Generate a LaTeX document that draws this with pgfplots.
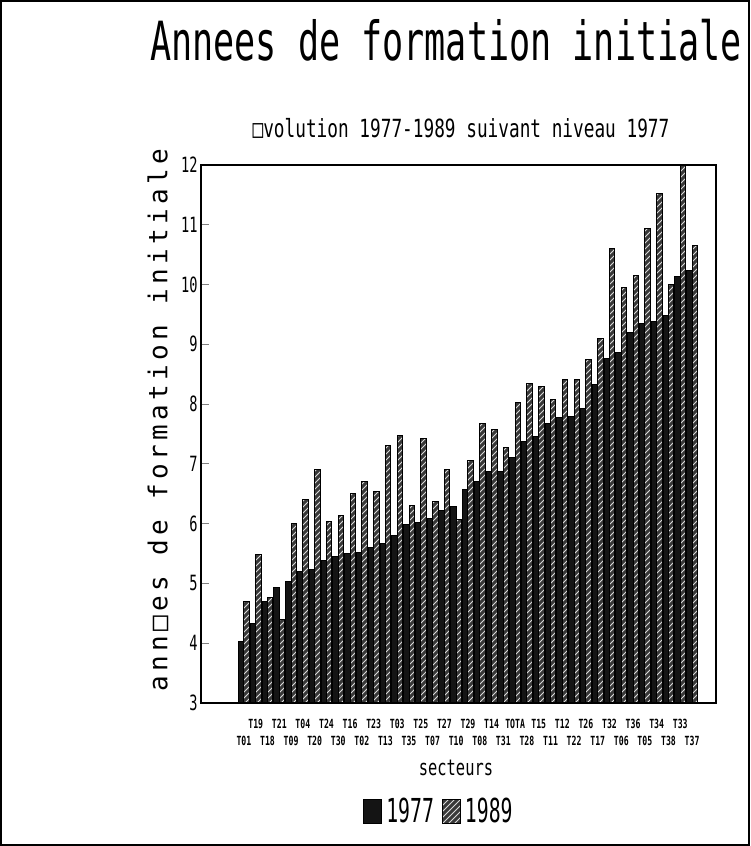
\documentclass[border=0pt]{standalone}
\usepackage{fontspec}
\usepackage{graphicx}
\usepackage{pgfplots}
\usepackage{pgfplotstable}
\pgfplotsset{compat=1.18}
\usetikzlibrary{patterns}
\setmainfont{DejaVu Sans Mono}

% narrow the plotter-like lettering
\newcommand\nar[2][0.65]{\scalebox{#1}[1]{#2}}
\newcommand\hi[1]{\nar{#1}\\\strut}
\newcommand\lo[1]{\strut\\\nar{#1}}

% x = sector index, a = 1977, b = 1989
\pgfplotstableread{
x  a     b
0  4.03  4.70
1  4.33  5.48
2  4.70  4.76
3  4.93  4.39
4  5.04  6.01
5  5.20  6.40
6  5.24  6.90
7  5.38  6.04
8  5.45  6.14
9  5.50  6.50
10 5.51  6.70
11 5.60  6.54
12 5.67  7.30
13 5.80  7.48
14 5.99  6.31
15 6.02  7.42
16 6.09  6.37
17 6.22  6.90
18 6.29  6.07
19 6.58  7.06
20 6.70  7.68
21 6.88  7.58
22 6.88  7.27
23 7.10  8.02
24 7.38  8.35
25 7.45  8.30
26 7.68  8.07
27 7.77  8.41
28 7.79  8.41
29 7.92  8.75
30 8.32  9.10
31 8.76  10.61
32 8.86  9.95
33 9.20  10.15
34 9.35  10.93
35 9.39  11.53
36 9.49  10.00
37 10.13 12.00
38 10.23 10.66
}\data

\begin{document}
\begin{tikzpicture}
\draw[line width=0.8pt] (-100.1pt,-71.1pt) rectangle (274.1pt,351.1pt);

\begin{axis}[
    at={(0pt,0pt)}, anchor=south west,
    scale only axis, width=257.5pt, height=269pt,
    xmin=-3.64, xmax=40.03, ymin=3, ymax=12,
    ybar=0pt, bar width=0.46,
    axis line style={line width=0.8pt},
    xtick=data,
    xticklabels={\lo{T01},\hi{T19},\lo{T18},\hi{T21},\lo{T09},\hi{T04},\lo{T20},\hi{T24},
        \lo{T30},\hi{T16},\lo{T02},\hi{T23},\lo{T13},\hi{T03},\lo{T35},\hi{T25},
        \lo{T07},\hi{T27},\lo{T10},\hi{T29},\lo{T08},\hi{T14},\lo{T31},\hi{TOTA},
        \lo{T28},\hi{T15},\lo{T11},\hi{T12},\lo{T22},\hi{T26},\lo{T17},\hi{T32},
        \lo{T06},\hi{T36},\lo{T05},\hi{T34},\lo{T38},\hi{T33},\lo{T37}},
    xticklabel style={font=\fontsize{6.3}{7.8}\selectfont\bfseries, align=center, inner sep=1pt, yshift=-7pt},
    xtick style={draw=none},
    ytick={3,...,12}, ytick pos=left, tick align=inside, major tick length=4pt,
    ytick style={line width=0.6pt},
    yticklabel={\nar{\pgfmathprintnumber[assume math mode=true]{\tick}}},
    yticklabel style={font=\fontsize{10.5}{12}\selectfont, inner sep=1.5pt},
    legend style={at={(0.464,-0.2026)}, anchor=center, draw=none, fill=none,
        legend columns=-1, font=\fontsize{16.5}{18}\selectfont,
        /tikz/every even column/.append style={column sep=2pt},
        inner sep=0pt},
    legend image code/.code={\draw[#1,line width=0.5pt] (0pt,-6pt) rectangle (9pt,6pt);},
]
\addplot[draw=black, line width=0.5pt, fill=black!92, bar shift=-0.23] table[x=x,y=a]{\data};
\addplot[draw=black, line width=0.5pt, fill=black!78,
    postaction={pattern=north east lines, pattern color=white!85!black}, bar shift=0.23] table[x=x,y=b]{\data};
\legend{\nar[0.6]{1977},\nar[0.6]{1989}}
\end{axis}

\node[font=\fontsize{27}{27}\selectfont] at (122.5pt,331.5pt) {\nar{Annees de formation initiale}};
\node[font=\fontsize{12.5}{13}\selectfont] at (130pt,287.5pt) {\nar[0.71]{□volution 1977-1989 suivant niveau 1977}};
\node[rotate=90, font=\fontsize{13}{13}\selectfont] at (-21.5pt,141.5pt)
    {\addfontfeatures{LetterSpace=16.7}ann□es de formation initiale};
\node[font=\fontsize{11}{12}\selectfont] at (127.5pt,-32.5pt) {\nar[0.7]{secteurs}};
\end{tikzpicture}
\end{document}
